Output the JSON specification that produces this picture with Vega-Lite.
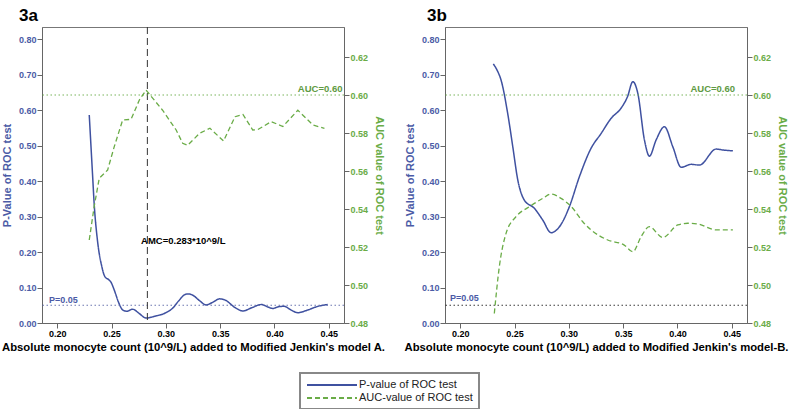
{
  "$schema": "https://vega.github.io/schema/vega-lite/v6.json",
  "padding": {"left": 0, "top": 6, "right": 0, "bottom": 0},
  "background": "white",
  "config": {
    "font": "Liberation Sans",
    "view": {"stroke": "#777", "strokeWidth": 1},
    "axis": {"grid": false, "domainColor": "#666", "tickColor": "#666", "labelFontSize": 9, "labelFontWeight": "bold", "titleFontSize": 11, "titleFontWeight": "bold", "tickSize": 5, "labelPadding": 1, "labelFont": "Liberation Sans", "titleFont": "Liberation Sans"},
    "title": {"fontSize": 17, "fontWeight": "bold", "anchor": "start", "frame": "group", "color": "#000", "font": "Liberation Sans"},
    "legend": {"strokeColor": "#888", "strokeWidth": 2, "padding": 6, "labelFontSize": 11, "labelFont": "Liberation Sans", "labelColor": "#222", "symbolType": "M-1,0H9", "symbolSize": 100, "symbolStrokeWidth": 2, "rowPadding": 2, "labelOffset": 41}
  },
  "datasets": {
    "aP": [
      {"series": "P-value of ROC test", "x": 0.2295, "y": 0.586}, {"series": "P-value of ROC test", "x": 0.2325, "y": 0.42}, {"series": "P-value of ROC test", "x": 0.234, "y": 0.337}, {"series": "P-value of ROC test", "x": 0.237, "y": 0.234}, {"series": "P-value of ROC test", "x": 0.241, "y": 0.16}, {"series": "P-value of ROC test", "x": 0.244, "y": 0.13}, {"series": "P-value of ROC test", "x": 0.2475, "y": 0.122}, {"series": "P-value of ROC test", "x": 0.2495, "y": 0.115}, {"series": "P-value of ROC test", "x": 0.2525, "y": 0.093}, {"series": "P-value of ROC test", "x": 0.2565, "y": 0.058}, {"series": "P-value of ROC test", "x": 0.2602, "y": 0.037}, {"series": "P-value of ROC test", "x": 0.264, "y": 0.033}, {"series": "P-value of ROC test", "x": 0.2694, "y": 0.039}, {"series": "P-value of ROC test", "x": 0.275, "y": 0.028}, {"series": "P-value of ROC test", "x": 0.2818, "y": 0.014}, {"series": "P-value of ROC test", "x": 0.29, "y": 0.019}, {"series": "P-value of ROC test", "x": 0.30, "y": 0.029}, {"series": "P-value of ROC test", "x": 0.306, "y": 0.041}, {"series": "P-value of ROC test", "x": 0.312, "y": 0.063}, {"series": "P-value of ROC test", "x": 0.317, "y": 0.079}, {"series": "P-value of ROC test", "x": 0.32, "y": 0.082}, {"series": "P-value of ROC test", "x": 0.325, "y": 0.078}, {"series": "P-value of ROC test", "x": 0.331, "y": 0.063}, {"series": "P-value of ROC test", "x": 0.337, "y": 0.051}, {"series": "P-value of ROC test", "x": 0.343, "y": 0.058}, {"series": "P-value of ROC test", "x": 0.3494, "y": 0.068}, {"series": "P-value of ROC test", "x": 0.355, "y": 0.064}, {"series": "P-value of ROC test", "x": 0.363, "y": 0.045}, {"series": "P-value of ROC test", "x": 0.371, "y": 0.034}, {"series": "P-value of ROC test", "x": 0.379, "y": 0.043}, {"series": "P-value of ROC test", "x": 0.388, "y": 0.052}, {"series": "P-value of ROC test", "x": 0.394, "y": 0.045}, {"series": "P-value of ROC test", "x": 0.3985, "y": 0.041}, {"series": "P-value of ROC test", "x": 0.404, "y": 0.046}, {"series": "P-value of ROC test", "x": 0.409, "y": 0.047}, {"series": "P-value of ROC test", "x": 0.415, "y": 0.037}, {"series": "P-value of ROC test", "x": 0.4215, "y": 0.029}, {"series": "P-value of ROC test", "x": 0.43, "y": 0.036}, {"series": "P-value of ROC test", "x": 0.44, "y": 0.047}, {"series": "P-value of ROC test", "x": 0.449, "y": 0.052}
    ],
    "aA": [
      {"series": "AUC-value of ROC test", "x": 0.2295, "y": 0.5237}, {"series": "AUC-value of ROC test", "x": 0.234, "y": 0.5412}, {"series": "AUC-value of ROC test", "x": 0.2387, "y": 0.5562}, {"series": "AUC-value of ROC test", "x": 0.2464, "y": 0.5605}, {"series": "AUC-value of ROC test", "x": 0.2525, "y": 0.5728}, {"series": "AUC-value of ROC test", "x": 0.2602, "y": 0.5868}, {"series": "AUC-value of ROC test", "x": 0.268, "y": 0.5872}, {"series": "AUC-value of ROC test", "x": 0.2756, "y": 0.5974}, {"series": "AUC-value of ROC test", "x": 0.2818, "y": 0.6026}, {"series": "AUC-value of ROC test", "x": 0.297, "y": 0.592}, {"series": "AUC-value of ROC test", "x": 0.3095, "y": 0.5816}, {"series": "AUC-value of ROC test", "x": 0.3155, "y": 0.5746}, {"series": "AUC-value of ROC test", "x": 0.32, "y": 0.5735}, {"series": "AUC-value of ROC test", "x": 0.331, "y": 0.5798}, {"series": "AUC-value of ROC test", "x": 0.3406, "y": 0.5825}, {"series": "AUC-value of ROC test", "x": 0.3531, "y": 0.5758}, {"series": "AUC-value of ROC test", "x": 0.3637, "y": 0.5886}, {"series": "AUC-value of ROC test", "x": 0.371, "y": 0.5898}, {"series": "AUC-value of ROC test", "x": 0.38, "y": 0.5816}, {"series": "AUC-value of ROC test", "x": 0.3847, "y": 0.5818}, {"series": "AUC-value of ROC test", "x": 0.397, "y": 0.586}, {"series": "AUC-value of ROC test", "x": 0.4077, "y": 0.5834}, {"series": "AUC-value of ROC test", "x": 0.4215, "y": 0.592}, {"series": "AUC-value of ROC test", "x": 0.4354, "y": 0.5842}, {"series": "AUC-value of ROC test", "x": 0.446, "y": 0.5825}
    ],
    "bP": [
      {"series": "P-value of ROC test", "x": 0.2305, "y": 0.73}, {"series": "P-value of ROC test", "x": 0.234, "y": 0.712}, {"series": "P-value of ROC test", "x": 0.2376, "y": 0.6845}, {"series": "P-value of ROC test", "x": 0.2437, "y": 0.5907}, {"series": "P-value of ROC test", "x": 0.2484, "y": 0.4966}, {"series": "P-value of ROC test", "x": 0.253, "y": 0.403}, {"series": "P-value of ROC test", "x": 0.259, "y": 0.3465}, {"series": "P-value of ROC test", "x": 0.2683, "y": 0.323}, {"series": "P-value of ROC test", "x": 0.276, "y": 0.29}, {"series": "P-value of ROC test", "x": 0.2836, "y": 0.2545}, {"series": "P-value of ROC test", "x": 0.2913, "y": 0.271}, {"series": "P-value of ROC test", "x": 0.3005, "y": 0.3277}, {"series": "P-value of ROC test", "x": 0.3097, "y": 0.412}, {"series": "P-value of ROC test", "x": 0.3204, "y": 0.492}, {"series": "P-value of ROC test", "x": 0.3297, "y": 0.534}, {"series": "P-value of ROC test", "x": 0.339, "y": 0.577}, {"series": "P-value of ROC test", "x": 0.348, "y": 0.605}, {"series": "P-value of ROC test", "x": 0.354, "y": 0.6375}, {"series": "P-value of ROC test", "x": 0.3589, "y": 0.68}, {"series": "P-value of ROC test", "x": 0.3635, "y": 0.647}, {"series": "P-value of ROC test", "x": 0.3696, "y": 0.5155}, {"series": "P-value of ROC test", "x": 0.3742, "y": 0.47}, {"series": "P-value of ROC test", "x": 0.3803, "y": 0.5155}, {"series": "P-value of ROC test", "x": 0.388, "y": 0.553}, {"series": "P-value of ROC test", "x": 0.3957, "y": 0.4966}, {"series": "P-value of ROC test", "x": 0.4034, "y": 0.4386}, {"series": "P-value of ROC test", "x": 0.4126, "y": 0.447}, {"series": "P-value of ROC test", "x": 0.4202, "y": 0.445}, {"series": "P-value of ROC test", "x": 0.4356, "y": 0.49}, {"series": "P-value of ROC test", "x": 0.4432, "y": 0.487}, {"series": "P-value of ROC test", "x": 0.451, "y": 0.485}
    ],
    "bA": [
      {"series": "AUC-value of ROC test", "x": 0.2314, "y": 0.485}, {"series": "AUC-value of ROC test", "x": 0.236, "y": 0.5096}, {"series": "AUC-value of ROC test", "x": 0.2422, "y": 0.5272}, {"series": "AUC-value of ROC test", "x": 0.2514, "y": 0.536}, {"series": "AUC-value of ROC test", "x": 0.2637, "y": 0.5412}, {"series": "AUC-value of ROC test", "x": 0.276, "y": 0.5456}, {"series": "AUC-value of ROC test", "x": 0.2836, "y": 0.5479}, {"series": "AUC-value of ROC test", "x": 0.2928, "y": 0.5456}, {"series": "AUC-value of ROC test", "x": 0.3036, "y": 0.5404}, {"series": "AUC-value of ROC test", "x": 0.3128, "y": 0.5333}, {"series": "AUC-value of ROC test", "x": 0.3204, "y": 0.529}, {"series": "AUC-value of ROC test", "x": 0.3358, "y": 0.5237}, {"series": "AUC-value of ROC test", "x": 0.351, "y": 0.521}, {"series": "AUC-value of ROC test", "x": 0.3589, "y": 0.5175}, {"series": "AUC-value of ROC test", "x": 0.3665, "y": 0.5254}, {"series": "AUC-value of ROC test", "x": 0.374, "y": 0.5307}, {"series": "AUC-value of ROC test", "x": 0.3865, "y": 0.525}, {"series": "AUC-value of ROC test", "x": 0.4003, "y": 0.5316}, {"series": "AUC-value of ROC test", "x": 0.4095, "y": 0.5325}, {"series": "AUC-value of ROC test", "x": 0.4187, "y": 0.5321}, {"series": "AUC-value of ROC test", "x": 0.4356, "y": 0.529}, {"series": "AUC-value of ROC test", "x": 0.451, "y": 0.529}
    ]
  },
  "hconcat": [
    {
      "title": {"text": "3a", "dx": -23, "offset": 2},
      "width": 302,
      "height": 296,
      "layer": [
        {
          "layer": [
            {
              "data": {"name": "aP"},
              "mark": {"type": "line", "interpolate": "monotone", "strokeWidth": 1.5},
              "encoding": {
                "x": {"field": "x", "type": "quantitative", "scale": {"domain": [0.186, 0.464], "nice": false, "zero": false}, "axis": {"values": [0.2, 0.25, 0.3, 0.35, 0.4, 0.45], "format": ".2f", "title": "Absolute monocyte count (10^9/L) added to Modified Jenkin's model A.", "titleColor": "#000", "labelColor": "#000", "titlePadding": 3, "titleFontSize": 11.3}},
                "y": {"field": "y", "type": "quantitative", "scale": {"domain": [0, 0.834], "nice": false, "zero": false}, "axis": {"orient": "left", "values": [0, 0.1, 0.2, 0.3, 0.4, 0.5, 0.6, 0.7, 0.8], "format": ".2f", "title": "P-Value of ROC test", "titleColor": "#4b5ba6", "labelColor": "#4b5ba6", "titlePadding": 6}},
                "color": {"field": "series", "type": "nominal", "scale": {"domain": ["P-value of ROC test", "AUC-value of ROC test"], "range": ["#3f51a0", "#6aac47"]}, "legend": {"title": null, "orient": "none", "legendX": 258, "legendY": 346, "direction": "vertical"}},
                "strokeDash": {"field": "series", "type": "nominal", "scale": {"domain": ["P-value of ROC test", "AUC-value of ROC test"], "range": [[1, 0], [5, 3]]}, "legend": {"title": null, "orient": "none", "legendX": 258, "legendY": 346, "direction": "vertical"}}
              }
            },
            {
              "data": {"values": [{"y": 0.05}]},
              "mark": {"type": "rule", "color": "#5a67a8", "strokeDash": [1.5, 2.5], "strokeWidth": 0.9},
              "encoding": {"y": {"field": "y", "type": "quantitative", "scale": {"domain": [0, 0.834], "nice": false, "zero": false}, "axis": {"orient": "left", "values": [0, 0.1, 0.2, 0.3, 0.4, 0.5, 0.6, 0.7, 0.8], "format": ".2f", "title": "P-Value of ROC test", "titleColor": "#4b5ba6", "labelColor": "#4b5ba6", "titlePadding": 6}}}
            },
            {
              "data": {"values": [{"x": 0.283}]},
              "mark": {"type": "rule", "color": "#333", "strokeDash": [7, 4], "strokeWidth": 1},
              "encoding": {"x": {"field": "x", "type": "quantitative"}}
            },
            {
              "data": {"values": [{"x": 0.1925, "y": 0.055, "label": "P=0.05"}]},
              "mark": {"type": "text", "align": "left", "baseline": "alphabetic", "fontSize": 9, "fontWeight": "bold", "color": "#4b5ba6"},
              "encoding": {
                "x": {"field": "x", "type": "quantitative"},
                "y": {"field": "y", "type": "quantitative", "scale": {"domain": [0, 0.834], "nice": false, "zero": false}, "axis": {"orient": "left", "values": [0, 0.1, 0.2, 0.3, 0.4, 0.5, 0.6, 0.7, 0.8], "format": ".2f", "title": "P-Value of ROC test", "titleColor": "#4b5ba6", "labelColor": "#4b5ba6", "titlePadding": 6}},
                "text": {"field": "label"}
              }
            },
            {
              "data": {"values": [{"x": 0.2772, "y": 0.231, "label": "AMC=0.283*10^9/L"}]},
              "mark": {"type": "text", "align": "left", "baseline": "middle", "fontSize": 9.5, "fontWeight": "bold", "color": "#000"},
              "encoding": {
                "x": {"field": "x", "type": "quantitative"},
                "y": {"field": "y", "type": "quantitative", "scale": {"domain": [0, 0.834], "nice": false, "zero": false}, "axis": {"orient": "left", "values": [0, 0.1, 0.2, 0.3, 0.4, 0.5, 0.6, 0.7, 0.8], "format": ".2f", "title": "P-Value of ROC test", "titleColor": "#4b5ba6", "labelColor": "#4b5ba6", "titlePadding": 6}},
                "text": {"field": "label"}
              }
            }
          ]
        },
        {
          "layer": [
            {
              "data": {"name": "aA"},
              "mark": {"type": "line", "interpolate": "linear", "strokeWidth": 1.3},
              "encoding": {
                "x": {"field": "x", "type": "quantitative"},
                "y": {"field": "y", "type": "quantitative", "scale": {"domain": [0.48, 0.6358], "nice": false, "zero": false}, "axis": {"orient": "right", "values": [0.48, 0.5, 0.52, 0.54, 0.56, 0.58, 0.6, 0.62], "format": ".2f", "title": "AUC value of ROC test", "titleColor": "#6aac47", "labelColor": "#6aac47", "titlePadding": 6}},
                "color": {"field": "series", "type": "nominal", "scale": {"domain": ["P-value of ROC test", "AUC-value of ROC test"], "range": ["#3f51a0", "#6aac47"]}, "legend": {"title": null, "orient": "none", "legendX": 258, "legendY": 346, "direction": "vertical"}},
                "strokeDash": {"field": "series", "type": "nominal", "scale": {"domain": ["P-value of ROC test", "AUC-value of ROC test"], "range": [[1, 0], [5, 3]]}, "legend": {"title": null, "orient": "none", "legendX": 258, "legendY": 346, "direction": "vertical"}}
              }
            },
            {
              "data": {"values": [{"y": 0.6}]},
              "mark": {"type": "rule", "color": "#6aac47", "strokeDash": [1.5, 2.5], "strokeWidth": 0.9},
              "encoding": {"y": {"field": "y", "type": "quantitative", "scale": {"domain": [0.48, 0.6358], "nice": false, "zero": false}, "axis": {"orient": "right", "values": [0.48, 0.5, 0.52, 0.54, 0.56, 0.58, 0.6, 0.62], "format": ".2f", "title": "AUC value of ROC test", "titleColor": "#6aac47", "labelColor": "#6aac47", "titlePadding": 6}}}
            },
            {
              "data": {"values": [{"x": 0.4626, "y": 0.6018, "label": "AUC=0.60"}]},
              "mark": {"type": "text", "align": "right", "baseline": "alphabetic", "fontSize": 9.5, "fontWeight": "bold", "color": "#5e9a42"},
              "encoding": {
                "x": {"field": "x", "type": "quantitative"},
                "y": {"field": "y", "type": "quantitative", "scale": {"domain": [0.48, 0.6358], "nice": false, "zero": false}, "axis": {"orient": "right", "values": [0.48, 0.5, 0.52, 0.54, 0.56, 0.58, 0.6, 0.62], "format": ".2f", "title": "AUC value of ROC test", "titleColor": "#6aac47", "labelColor": "#6aac47", "titlePadding": 6}},
                "text": {"field": "label"}
              }
            }
          ]
        }
      ],
      "resolve": {"scale": {"y": "independent"}}
    },
    {
      "title": {"text": "3b", "dx": -18, "offset": 2},
      "width": 302,
      "height": 296,
      "layer": [
        {
          "layer": [
            {
              "data": {"name": "bP"},
              "mark": {"type": "line", "interpolate": "monotone", "strokeWidth": 1.5},
              "encoding": {
                "x": {"field": "x", "type": "quantitative", "scale": {"domain": [0.186, 0.464], "nice": false, "zero": false}, "axis": {"values": [0.2, 0.25, 0.3, 0.35, 0.4, 0.45], "format": ".2f", "title": "Absolute monocyte count (10^9/L) added to Modified Jenkin's model-B.", "titleColor": "#000", "labelColor": "#000", "titlePadding": 3, "titleFontSize": 11.3}},
                "y": {"field": "y", "type": "quantitative", "scale": {"domain": [0, 0.834], "nice": false, "zero": false}, "axis": {"orient": "left", "values": [0, 0.1, 0.2, 0.3, 0.4, 0.5, 0.6, 0.7, 0.8], "format": ".2f", "title": "P-Value of ROC test", "titleColor": "#4b5ba6", "labelColor": "#4b5ba6", "titlePadding": 6}},
                "color": {"field": "series", "type": "nominal", "scale": {"domain": ["P-value of ROC test", "AUC-value of ROC test"], "range": ["#3f51a0", "#6aac47"]}, "legend": {"title": null, "orient": "none", "legendX": 258, "legendY": 346, "direction": "vertical"}},
                "strokeDash": {"field": "series", "type": "nominal", "scale": {"domain": ["P-value of ROC test", "AUC-value of ROC test"], "range": [[1, 0], [5, 3]]}, "legend": {"title": null, "orient": "none", "legendX": 258, "legendY": 346, "direction": "vertical"}}
              }
            },
            {
              "data": {"values": [{"y": 0.05}]},
              "mark": {"type": "rule", "color": "#222", "strokeDash": [1.5, 2.5], "strokeWidth": 0.9},
              "encoding": {"y": {"field": "y", "type": "quantitative", "scale": {"domain": [0, 0.834], "nice": false, "zero": false}, "axis": {"orient": "left", "values": [0, 0.1, 0.2, 0.3, 0.4, 0.5, 0.6, 0.7, 0.8], "format": ".2f", "title": "P-Value of ROC test", "titleColor": "#4b5ba6", "labelColor": "#4b5ba6", "titlePadding": 6}}}
            },
            {
              "data": {"values": [{"x": 0.1905, "y": 0.063, "label": "P=0.05"}]},
              "mark": {"type": "text", "align": "left", "baseline": "alphabetic", "fontSize": 9, "fontWeight": "bold", "color": "#4b5ba6"},
              "encoding": {
                "x": {"field": "x", "type": "quantitative"},
                "y": {"field": "y", "type": "quantitative", "scale": {"domain": [0, 0.834], "nice": false, "zero": false}, "axis": {"orient": "left", "values": [0, 0.1, 0.2, 0.3, 0.4, 0.5, 0.6, 0.7, 0.8], "format": ".2f", "title": "P-Value of ROC test", "titleColor": "#4b5ba6", "labelColor": "#4b5ba6", "titlePadding": 6}},
                "text": {"field": "label"}
              }
            }
          ]
        },
        {
          "layer": [
            {
              "data": {"name": "bA"},
              "mark": {"type": "line", "interpolate": "monotone", "strokeWidth": 1.3},
              "encoding": {
                "x": {"field": "x", "type": "quantitative"},
                "y": {"field": "y", "type": "quantitative", "scale": {"domain": [0.48, 0.6358], "nice": false, "zero": false}, "axis": {"orient": "right", "values": [0.48, 0.5, 0.52, 0.54, 0.56, 0.58, 0.6, 0.62], "format": ".2f", "title": "AUC value of ROC test", "titleColor": "#6aac47", "labelColor": "#6aac47", "titlePadding": 6}},
                "color": {"field": "series", "type": "nominal", "scale": {"domain": ["P-value of ROC test", "AUC-value of ROC test"], "range": ["#3f51a0", "#6aac47"]}, "legend": {"title": null, "orient": "none", "legendX": 258, "legendY": 346, "direction": "vertical"}},
                "strokeDash": {"field": "series", "type": "nominal", "scale": {"domain": ["P-value of ROC test", "AUC-value of ROC test"], "range": [[1, 0], [5, 3]]}, "legend": {"title": null, "orient": "none", "legendX": 258, "legendY": 346, "direction": "vertical"}}
              }
            },
            {
              "data": {"values": [{"y": 0.6}]},
              "mark": {"type": "rule", "color": "#6aac47", "strokeDash": [1.5, 2.5], "strokeWidth": 0.9},
              "encoding": {"y": {"field": "y", "type": "quantitative", "scale": {"domain": [0.48, 0.6358], "nice": false, "zero": false}, "axis": {"orient": "right", "values": [0.48, 0.5, 0.52, 0.54, 0.56, 0.58, 0.6, 0.62], "format": ".2f", "title": "AUC value of ROC test", "titleColor": "#6aac47", "labelColor": "#6aac47", "titlePadding": 6}}}
            },
            {
              "data": {"values": [{"x": 0.453, "y": 0.6018, "label": "AUC=0.60"}]},
              "mark": {"type": "text", "align": "right", "baseline": "alphabetic", "fontSize": 9.5, "fontWeight": "bold", "color": "#5e9a42"},
              "encoding": {
                "x": {"field": "x", "type": "quantitative"},
                "y": {"field": "y", "type": "quantitative", "scale": {"domain": [0.48, 0.6358], "nice": false, "zero": false}, "axis": {"orient": "right", "values": [0.48, 0.5, 0.52, 0.54, 0.56, 0.58, 0.6, 0.62], "format": ".2f", "title": "AUC value of ROC test", "titleColor": "#6aac47", "labelColor": "#6aac47", "titlePadding": 6}},
                "text": {"field": "label"}
              }
            }
          ]
        }
      ],
      "resolve": {"scale": {"y": "independent"}}
    }
  ],
  "spacing": 17,
  "resolve": {"scale": {"color": "shared", "strokeDash": "shared"}, "legend": {"color": "shared", "strokeDash": "shared"}}
}
